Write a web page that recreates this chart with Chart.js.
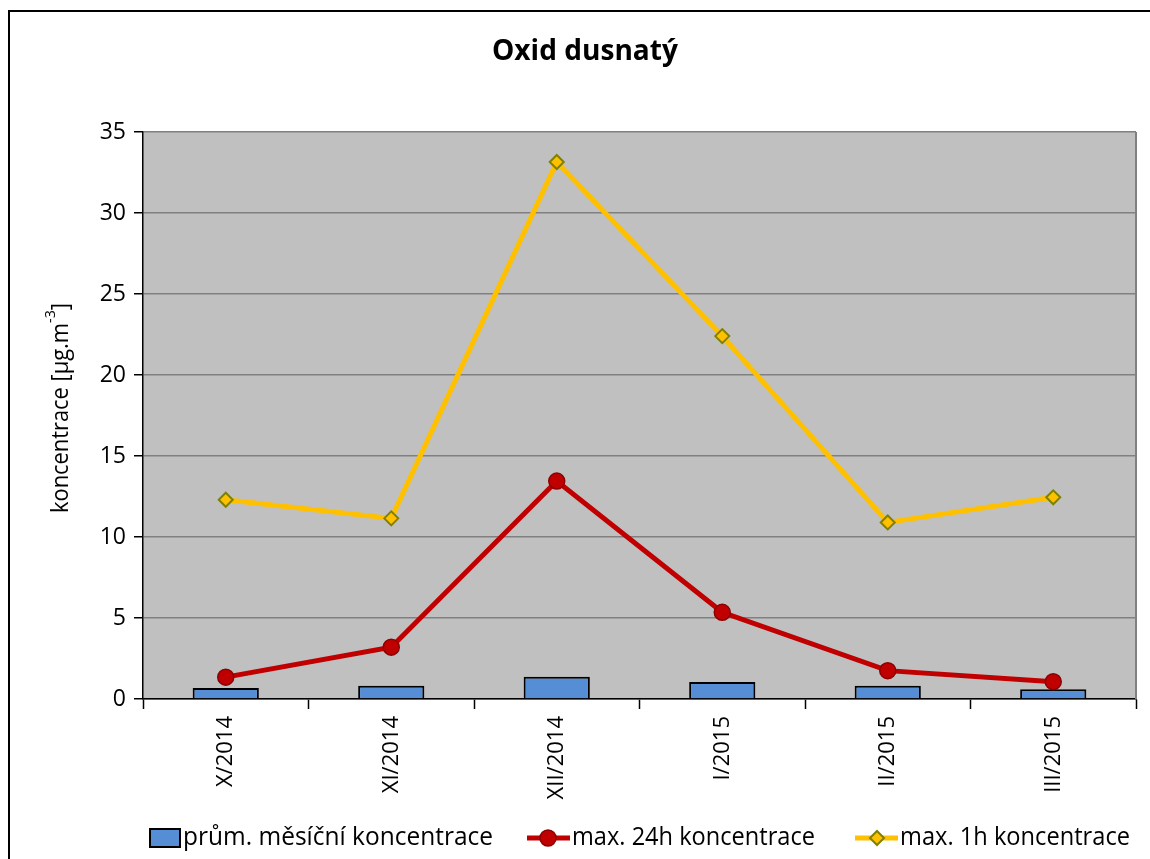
<!DOCTYPE html>
<html>
<head>
<meta charset="utf-8">
<script src="https://cdn.jsdelivr.net/npm/chart.js@4/dist/chart.umd.min.js"></script>
<style>
  html, body { margin: 0; padding: 0; background: #fff; }
  #wrap { width: 1150px; height: 859px; position: relative; }
</style>
</head>
<body>
<div id="wrap"><canvas id="chart" width="1150" height="859"></canvas></div>
<script>
const months = ["X/2014", "XI/2014", "XII/2014", "I/2015", "II/2015", "III/2015"];
const monthlyAvg = [0.68, 0.82, 1.38, 1.05, 0.82, 0.6];
const max24h = [1.35, 3.2, 13.45, 5.35, 1.75, 1.07];
const max1h = [12.3, 11.15, 33.15, 22.4, 10.9, 12.45];
const yTicks = [0, 5, 10, 15, 20, 25, 30, 35];

const seriesNames = ["prům. měsíční koncentrace", "max. 24h koncentrace", "max. 1h koncentrace"];
const tickFont = "'Open Sans', 'Liberation Sans', sans-serif";

// text drawn squeezed to a target width, like the narrow original font
const fitText = (ctx, text, x, y, width) => {
  const w = ctx.measureText(text).width;
  ctx.save();
  ctx.translate(x, y);
  ctx.scale(width / w, 1);
  ctx.fillText(text, 0, 0);
  ctx.restore();
};

// background, frame, title, axis title and legend
const decor = {
  id: "decor",
  beforeDraw(chart) {
    const { ctx, chartArea: a } = chart;
    ctx.save();
    ctx.fillStyle = "#fff";
    ctx.fillRect(0, 0, chart.width, chart.height);
    ctx.strokeStyle = "#000";
    ctx.lineWidth = 2;
    ctx.strokeRect(9, 11, 1300, 1000);
    ctx.fillStyle = "#c0c0c0";
    ctx.fillRect(a.left, a.top, a.right - a.left, a.bottom - a.top);
    ctx.restore();
  },
  afterDraw(chart) {
    const { ctx, chartArea: a } = chart;
    ctx.save();
    // right border of plot area
    ctx.strokeStyle = "#808080";
    ctx.lineWidth = 2;
    ctx.beginPath();
    ctx.moveTo(a.right, a.top);
    ctx.lineTo(a.right, a.bottom);
    ctx.stroke();

    // title
    ctx.fillStyle = "#000";
    ctx.font = "bold 28px " + tickFont;
    ctx.textAlign = "left";
    ctx.textBaseline = "middle";
    fitText(ctx, "Oxid dusnatý", 492, 52, 186);

    // y axis title with superscript
    ctx.translate(61, 408);
    ctx.rotate(-Math.PI / 2);
    ctx.font = "23px " + tickFont;
    const main = "koncentrace [µg.m";
    const mw = ctx.measureText(main).width;
    ctx.font = "15px " + tickFont;
    const sw = ctx.measureText("-3").width;
    ctx.font = "23px " + tickFont;
    const bw = ctx.measureText("]").width;
    const total = mw + sw + bw;
    const k = 210 / total;
    ctx.scale(k, 1);
    let x = -total / 2;
    ctx.fillText(main, x, 0);
    x += mw;
    ctx.font = "15px " + tickFont;
    ctx.fillText("-3", x, -10);
    x += sw;
    ctx.font = "23px " + tickFont;
    ctx.fillText("]", x, 0);
    ctx.setTransform(1, 0, 0, 1, 0, 0);

    // legend
    const ly = 838;
    ctx.font = "25px " + tickFont;
    ctx.textBaseline = "middle";
    ctx.textAlign = "left";
    // bar item
    ctx.fillStyle = "#558ed5";
    ctx.fillRect(150, 829, 30, 18);
    ctx.strokeStyle = "#000";
    ctx.lineWidth = 2;
    ctx.strokeRect(150, 829, 30, 18);
    ctx.fillStyle = "#000";
    fitText(ctx, seriesNames[0], 183, ly, 310);
    // red line item
    ctx.strokeStyle = "#c00000";
    ctx.lineWidth = 5;
    ctx.beginPath();
    ctx.moveTo(527, ly);
    ctx.lineTo(570, ly);
    ctx.stroke();
    ctx.fillStyle = "#c00000";
    ctx.strokeStyle = "#8b0000";
    ctx.lineWidth = 1.5;
    ctx.beginPath();
    ctx.arc(548, ly, 8, 0, Math.PI * 2);
    ctx.fill();
    ctx.stroke();
    ctx.fillStyle = "#000";
    fitText(ctx, seriesNames[1], 572, ly, 243);
    // yellow line item
    ctx.strokeStyle = "#ffc000";
    ctx.lineWidth = 5;
    ctx.beginPath();
    ctx.moveTo(855, ly);
    ctx.lineTo(898, ly);
    ctx.stroke();
    ctx.fillStyle = "#ffc000";
    ctx.strokeStyle = "#808000";
    ctx.lineWidth = 2;
    ctx.beginPath();
    ctx.moveTo(877, ly - 7);
    ctx.lineTo(884, ly);
    ctx.lineTo(877, ly + 7);
    ctx.lineTo(870, ly);
    ctx.closePath();
    ctx.fill();
    ctx.stroke();
    ctx.fillStyle = "#000";
    fitText(ctx, seriesNames[2], 900, ly, 230);
    ctx.restore();
  }
};

new Chart(document.getElementById("chart"), {
  data: {
    labels: months,
    datasets: [
      {
        type: "line",
        label: seriesNames[2],
        data: max1h,
        borderColor: "#ffc000",
        borderWidth: 5,
        pointStyle: "rectRot",
        pointRadius: 7,
        pointBackgroundColor: "#ffc000",
        pointBorderColor: "#808000",
        pointBorderWidth: 2,
        tension: 0,
        order: 1
      },
      {
        type: "line",
        label: seriesNames[1],
        data: max24h,
        borderColor: "#c00000",
        borderWidth: 5,
        pointStyle: "circle",
        pointRadius: 8,
        pointBackgroundColor: "#c00000",
        pointBorderColor: "#8b0000",
        pointBorderWidth: 1.5,
        tension: 0,
        order: 2
      },
      {
        type: "bar",
        label: seriesNames[0],
        data: monthlyAvg,
        backgroundColor: "#558ed5",
        borderColor: "#000",
        borderWidth: 2,
        barPercentage: 0.4,
        categoryPercentage: 1,
        order: 3
      }
    ]
  },
  options: {
    responsive: false,
    animation: false,
    layout: { padding: { left: 0, top: 132, right: 14, bottom: 40 } },
    plugins: {
      legend: { display: false },
      title: { display: false },
      tooltip: { enabled: false }
    },
    scales: {
      x: {
        offset: true,
        grid: {
          offset: true,
          drawOnChartArea: false,
          tickLength: 10,
          tickColor: "#000",
          tickWidth: 1.5
        },
        border: { color: "#000", width: 1.5 },
        ticks: {
          color: "#000",
          font: { family: tickFont, size: 22 },
          minRotation: 90,
          maxRotation: 90,
          padding: 7
        },
        afterFit(scale) { scale.height = 120; }
      },
      y: {
        min: 0,
        max: 35,
        afterBuildTicks(scale) { scale.ticks = yTicks.map(v => ({ value: v })); },
        grid: {
          color: "#808080",
          lineWidth: 1.5,
          tickLength: 9,
          tickColor: "#000"
        },
        border: { color: "#000", width: 1.5 },
        ticks: {
          color: "#000",
          font: { family: tickFont, size: 23 },
          padding: 8
        },
        afterFit(scale) { scale.width = 143; }
      }
    }
  },
  plugins: [decor]
});
</script>
</body>
</html>
